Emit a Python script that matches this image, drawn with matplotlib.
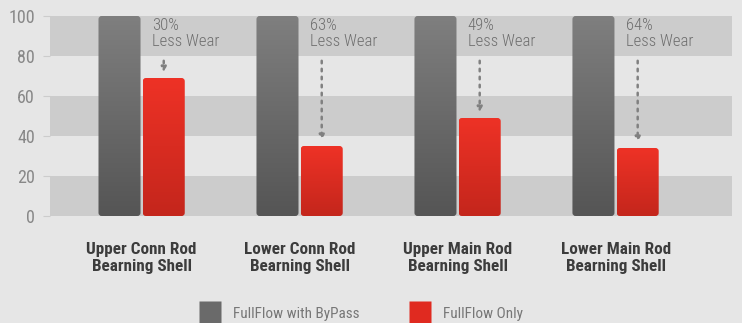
import numpy as np
import matplotlib
matplotlib.use("Agg")
import matplotlib.pyplot as plt
from matplotlib.patches import FancyBboxPatch
from matplotlib.lines import Line2D

plt.rcParams['font.family'] = ['Roboto Condensed', 'Roboto', 'DejaVu Sans']

# data
categories = ["Upper Conn Rod\nBearning Shell", "Lower Conn Rod\nBearning Shell",
              "Upper Main Rod\nBearning Shell", "Lower Main Rod\nBearning Shell"]
bypass = [100, 100, 100, 100]
only = [69, 35, 49, 34]
notes = ["30%", "63%", "49%", "64%"]
series = ["FullFlow with ByPass", "FullFlow Only"]

bg = "#e6e6e6"
band = "#cccccc"

fig = plt.figure(figsize=(7.42, 3.23), dpi=100, facecolor=bg)
ax = fig.add_axes([50 / 742, 107 / 323, 682 / 742, 200 / 323])
ax.set_facecolor(bg)

# horizontal bands
for lo in (0, 40, 80):
    ax.axhspan(lo, lo + 20, color=band, lw=0, zorder=0)

x = np.arange(len(categories))
w = 0.266
off = 0.14

def grad_bar(xc, h, top, bot):
    # rounded bar filled with a vertical gradient
    p = FancyBboxPatch((xc - w / 2, 0), w, h,
                       boxstyle="round,pad=0,rounding_size=0.02",
                       mutation_aspect=79, lw=0, fc="none", zorder=2)
    ax.add_patch(p)
    c1 = np.array(matplotlib.colors.to_rgb(top))
    c2 = np.array(matplotlib.colors.to_rgb(bot))
    t = np.linspace(0, 1, 100)[:, None]
    img = (c1 * (1 - t) + c2 * t)[:, None, :]
    im = ax.imshow(img, extent=(xc - w / 2, xc + w / 2, 0, h), aspect="auto",
                   origin="upper", zorder=2)
    im.set_clip_path(p)

for i in range(len(categories)):
    grad_bar(x[i] - off, bypass[i], "#7f7f7f", "#555555")
    grad_bar(x[i] + off, only[i], "#ee3226", "#c4261c")
    ax.text(x[i] + off - 0.075, 99.0, notes[i] + "\nLess Wear", ha="left", va="top",
            fontsize=12, fontweight="light", color="#6e6e6e", linespacing=1.1, zorder=3)
    ax.annotate("", xy=(x[i] + off, only[i] + 1.5), xytext=(x[i] + off, 79),
                arrowprops=dict(arrowstyle="-|>", color="#808080", lw=1.8,
                                linestyle=(0, (1, 2.2)), mutation_scale=7), zorder=3)

ax.set_xticks(x)
ax.set_xticklabels(categories, fontsize=12.3, fontweight="bold", color="#3c3c3c",
                   linespacing=1.15)
ax.set_yticks([0, 20, 40, 60, 80, 100])
ax.tick_params(axis="x", length=0, pad=19)
ax.tick_params(axis="y", length=5, color="#cccccc", labelsize=13, labelcolor="#888888", pad=6)
for s in ax.spines.values():
    s.set_visible(False)
ax.autoscale(False)
ax.set_xlim(-0.58, 3.737)
ax.set_ylim(0, 100)

handles = [Line2D([], [], ls="none", marker="s", ms=16.5, mfc="#6a6a6a", mec="none"),
           Line2D([], [], ls="none", marker="s", ms=16.5, mfc="#e02a20", mec="none")]
fig.legend(handles, series, loc="upper left", bbox_to_anchor=(181 / 742, 1 - 293 / 323),
           ncol=2, frameon=False, fontsize=11, labelcolor="#777777",
           columnspacing=2.95, handletextpad=0.5)

fig.savefig("out.png", dpi=100, facecolor=bg)
